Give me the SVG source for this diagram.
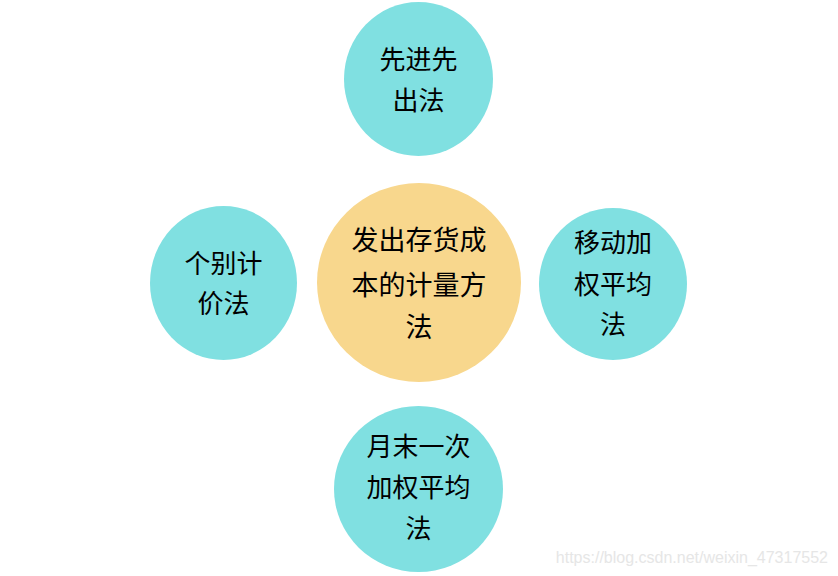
<svg xmlns="http://www.w3.org/2000/svg" width="838" height="576" viewBox="0 0 838 576">
<style>
.teal{fill:#80E0E1;}
.gold{fill:#F8D78D;}
.lbl{font-family:"Noto Sans CJK SC","Noto Sans",sans-serif;font-size:26px;fill:#000;text-anchor:middle;}
.wm{font-family:"Liberation Sans",Arial,sans-serif;font-size:16px;fill:#E6E6E6;text-anchor:end;}
</style>
<rect width="838" height="576" fill="#FFFFFF"/>
<g id="connectors"/>
<g id="node-top">
<ellipse class="teal" cx="418.5" cy="79" rx="74.5" ry="77"/>
<text class="lbl"><tspan x="418.5" y="69">先进先</tspan><tspan x="418.5" y="110">出法</tspan></text>
</g>
<g id="node-center">
<ellipse class="gold" cx="419" cy="282.5" rx="102" ry="99.5"/>
<text class="lbl" style="font-size:27px"><tspan x="419" y="250">发出存货成</tspan><tspan x="419" y="295">本的计量方</tspan><tspan x="419" y="337">法</tspan></text>
</g>
<g id="node-left">
<ellipse class="teal" cx="223.5" cy="283" rx="73.5" ry="77"/>
<text class="lbl"><tspan x="223.5" y="273">个别计</tspan><tspan x="223.5" y="313">价法</tspan></text>
</g>
<g id="node-right">
<ellipse class="teal" cx="613" cy="284" rx="74" ry="76"/>
<text class="lbl"><tspan x="613" y="252">移动加</tspan><tspan x="613" y="294">权平均</tspan><tspan x="613" y="334">法</tspan></text>
</g>
<g id="node-bottom">
<ellipse class="teal" cx="418.5" cy="489" rx="84.5" ry="83"/>
<text class="lbl"><tspan x="418.5" y="456">月末一次</tspan><tspan x="418.5" y="497">加权平均</tspan><tspan x="418.5" y="538">法</tspan></text>
</g>
<text class="wm" x="828" y="563">https://blog.csdn.net/weixin_47317552</text>
</svg>
